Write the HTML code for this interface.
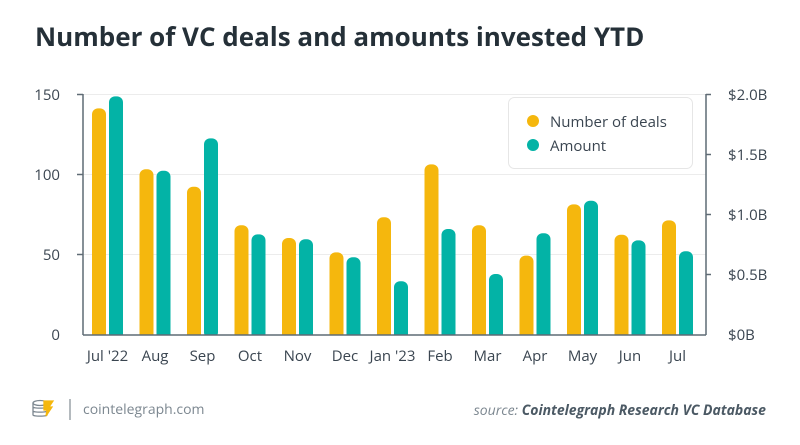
<!DOCTYPE html>
<html><head><meta charset="utf-8"><style>
html,body{margin:0;padding:0;background:#fff;width:800px;height:445px;overflow:hidden;}
svg{display:block;font-family:"Open Sans","DejaVu Sans","Liberation Sans",sans-serif;}
</style></head><body>
<svg width="800" height="445" viewBox="0 0 800 445" xmlns="http://www.w3.org/2000/svg" overflow="hidden">
<defs><clipPath id="c"><rect x="0" y="0" width="800" height="335"/></clipPath></defs>
<rect width="800" height="445" fill="#fff"/>
<text x="35" y="46" font-size="26" font-weight="bold" fill="#253038">Number of VC deals and amounts invested YTD</text>
<g stroke="#ececec" stroke-width="1">
<line x1="83" x2="706" y1="94.5" y2="94.5"/><line x1="83" x2="706" y1="174.5" y2="174.5"/><line x1="83" x2="706" y1="254.5" y2="254.5"/>
</g>
<g clip-path="url(#c)">
<g fill="#f5b70d">
<rect x="92" y="108.4" width="14" height="240" rx="6"/>
<rect x="139.5" y="169.2" width="14" height="200" rx="6"/>
<rect x="187" y="186.8" width="14" height="200" rx="6"/>
<rect x="234.5" y="225.2" width="14" height="200" rx="6"/>
<rect x="282" y="238" width="14" height="200" rx="6"/>
<rect x="329.5" y="252.4" width="14" height="100" rx="6"/>
<rect x="377" y="217.2" width="14" height="200" rx="6"/>
<rect x="424.5" y="164.4" width="14" height="200" rx="6"/>
<rect x="472" y="225.2" width="14" height="200" rx="6"/>
<rect x="519.5" y="255.6" width="14" height="100" rx="6"/>
<rect x="567" y="204.4" width="14" height="200" rx="6"/>
<rect x="614.5" y="234.8" width="14" height="200" rx="6"/>
<rect x="662" y="220.4" width="14" height="200" rx="6"/>
</g>
<g fill="#03b3a6">
<rect x="109" y="96.4" width="14" height="250" rx="6"/>
<rect x="156.5" y="170.8" width="14" height="200" rx="6"/>
<rect x="204" y="138.4" width="14" height="200" rx="6"/>
<rect x="251.5" y="234.4" width="14" height="200" rx="6"/>
<rect x="299" y="239.2" width="14" height="200" rx="6"/>
<rect x="346.5" y="257.2" width="14" height="100" rx="6"/>
<rect x="394" y="281.2" width="14" height="100" rx="6"/>
<rect x="441.5" y="229" width="14" height="200" rx="6"/>
<rect x="489" y="274" width="14" height="100" rx="6"/>
<rect x="536.5" y="233.2" width="14" height="200" rx="6"/>
<rect x="584" y="200.8" width="14" height="200" rx="6"/>
<rect x="631.5" y="240.4" width="14" height="200" rx="6"/>
<rect x="679" y="251.2" width="14" height="100" rx="6"/>
</g>
</g>
<g stroke="#5f6b75" stroke-width="1.5" fill="none">
<line x1="83" y1="94" x2="83" y2="335"/><line x1="706" y1="94" x2="706" y2="335"/>
<line x1="83" y1="335" x2="706" y2="335"/>
<line x1="77" x2="83" y1="94.5" y2="94.5"/><line x1="77" x2="83" y1="174.5" y2="174.5"/><line x1="77" x2="83" y1="254.5" y2="254.5"/>
<line x1="706" x2="711" y1="94.5" y2="94.5"/><line x1="706" x2="711" y1="154.5" y2="154.5"/><line x1="706" x2="711" y1="214.5" y2="214.5"/><line x1="706" x2="711" y1="274.5" y2="274.5"/>
</g>
<g font-size="15" fill="#3a4550" text-anchor="end">
<text x="60" y="100">150</text><text x="60" y="180">100</text><text x="60" y="260">50</text><text x="60" y="340">0</text>
</g>
<g font-size="15" fill="#3a4550">
<text x="728" y="100">$2.0B</text><text x="728" y="160">$1.5B</text><text x="728" y="220">$1.0B</text><text x="728" y="280">$0.5B</text><text x="728" y="340">$0B</text>
</g>
<g font-size="15" fill="#3a4550" text-anchor="middle">
<text x="107.5" y="361">Jul '22</text>
<text x="155" y="361">Aug</text>
<text x="202.5" y="361">Sep</text>
<text x="250" y="361">Oct</text>
<text x="297.5" y="361">Nov</text>
<text x="345" y="361">Dec</text>
<text x="392.5" y="361">Jan '23</text>
<text x="440" y="361">Feb</text>
<text x="487.5" y="361">Mar</text>
<text x="535" y="361">Apr</text>
<text x="582.5" y="361">May</text>
<text x="630" y="361">Jun</text>
<text x="677.5" y="361">Jul</text>
</g>
<rect x="508.5" y="97.5" width="184" height="71" rx="6" fill="#fff" stroke="#e6e6e6"/>
<circle cx="533" cy="121" r="6" fill="#f5b70d"/><text x="550" y="127" font-size="15" fill="#3a4550">Number of deals</text>
<circle cx="533" cy="145" r="6" fill="#03b3a6"/><text x="550" y="151" font-size="15" fill="#3a4550">Amount</text>
<g transform="translate(32,400)" fill="none" stroke="#7c8790" stroke-width="1.3">
<ellipse cx="8" cy="3" rx="7" ry="2.5"/><path d="M1 3v4c0 1.5 14 1.5 14 0V3M1 7v4c0 1.5 14 1.5 14 0V7M1 11v4c0 1.5 14 1.5 14 0v-4"/>
<path d="M12 1h9l-4 6h3l-6 9 1-6h-3z" fill="#f5b70d" stroke="#f5b70d"/>
</g>
<line x1="70" y1="399" x2="70" y2="420" stroke="#9aa2a8" stroke-width="1.5"/>
<text x="83" y="414" font-size="14" fill="#7c8790">cointelegraph.com</text>
<text x="766" y="415" font-size="14" text-anchor="end" font-style="italic"><tspan fill="#7c8790">source: </tspan><tspan fill="#4b5964" font-weight="bold">Cointelegraph Research VC Database</tspan></text>
</svg>
</body></html>
